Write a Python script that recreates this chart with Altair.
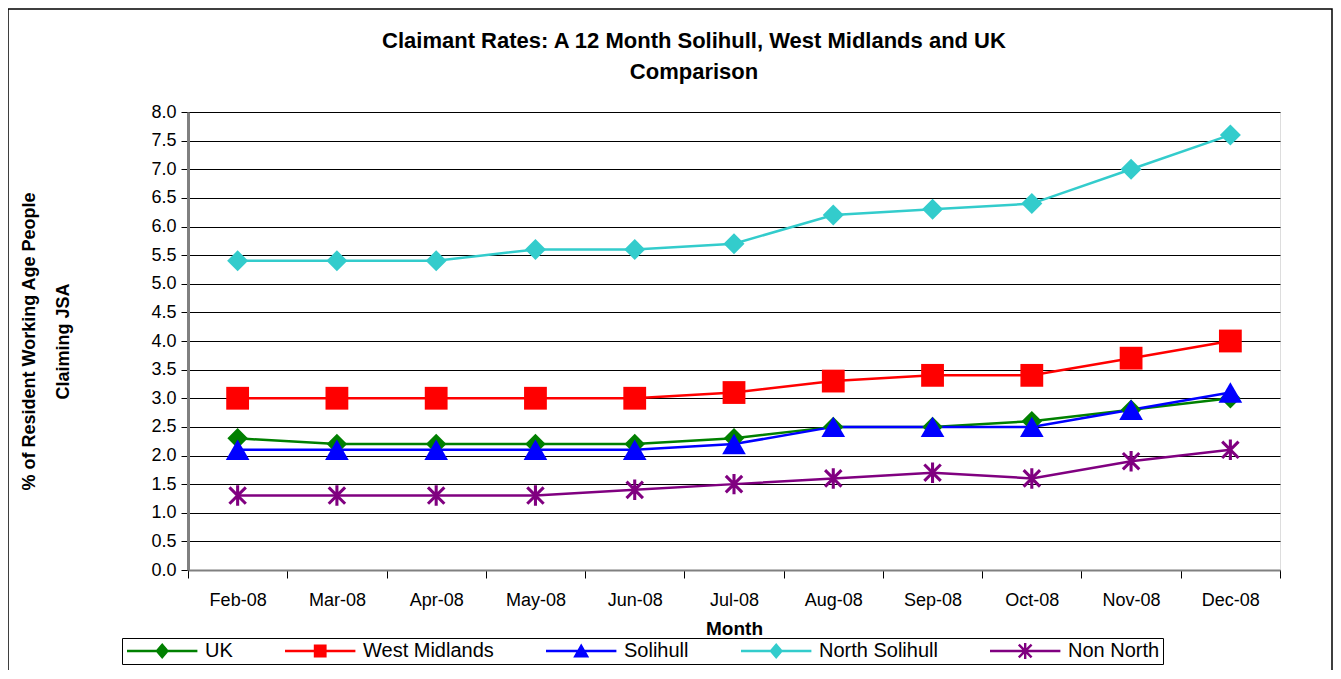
import altair as alt
import pandas as pd

months = ["Feb-08", "Mar-08", "Apr-08", "May-08", "Jun-08", "Jul-08",
          "Aug-08", "Sep-08", "Oct-08", "Nov-08", "Dec-08"]
series_names = ["UK", "West Midlands", "Solihull", "North Solihull", "Non North"]
uk = [2.3, 2.2, 2.2, 2.2, 2.2, 2.3, 2.5, 2.5, 2.6, 2.8, 3.0]
west_midlands = [3.0, 3.0, 3.0, 3.0, 3.0, 3.1, 3.3, 3.4, 3.4, 3.7, 4.0]
solihull = [2.1, 2.1, 2.1, 2.1, 2.1, 2.2, 2.5, 2.5, 2.5, 2.8, 3.1]
north_solihull = [5.4, 5.4, 5.4, 5.6, 5.6, 5.7, 6.2, 6.3, 6.4, 7.0, 7.6]
non_north = [1.3, 1.3, 1.3, 1.3, 1.4, 1.5, 1.6, 1.7, 1.6, 1.9, 2.1]
y_ticks = [0.0, 0.5, 1.0, 1.5, 2.0, 2.5, 3.0, 3.5, 4.0, 4.5, 5.0, 5.5, 6.0, 6.5, 7.0, 7.5, 8.0]

colors = ["#008000", "#FF0000", "#0000FF", "#33CCCC", "#800080"]

rows = []
for name, vals in zip(series_names, [uk, west_midlands, solihull, north_solihull, non_north]):
    for m, v in zip(months, vals):
        rows.append({"month": m, "series": name, "value": v})
df = pd.DataFrame(rows)

asterisk = ("M-0.15,-1L0.15,-1L0.15,1L-0.15,1Z"
            "M-0.694,-0.906L0.906,0.694L0.694,0.906L-0.906,-0.694Z"
            "M0.906,-0.694L-0.694,0.906L-0.906,0.694L0.694,-0.906Z")
point_shapes = ["diamond", "square", "triangle-up", "diamond", asterisk]
point_sizes = [420, 520, 560, 440, 420]

# legend symbols: line segment + marker (unit coords, scaled by sqrt(size)/2)
line_part = "M-1,-0.17L7.8,-0.17L7.8,0.17L-1,0.17Z"
c = 3.4
legend_shapes = [
    line_part + f"M{c},-1L{c+0.85},0L{c},1L{c-0.85},0Z",
    line_part + f"M{c-0.8},-0.8L{c+0.8},-0.8L{c+0.8},0.8L{c-0.8},0.8Z",
    line_part + f"M{c},-0.95L{c+1},0.8L{c-1},0.8Z",
    line_part + f"M{c},-1L{c+0.85},0L{c},1L{c-0.85},0Z",
    line_part + (f"M{c-0.15},-1L{c+0.15},-1L{c+0.15},1L{c-0.15},1Z"
                 f"M{c-0.694},-0.906L{c+0.906},0.694L{c+0.694},0.906L{c-0.906},-0.694Z"
                 f"M{c+0.906},-0.694L{c-0.694},0.906L{c-0.906},0.694L{c+0.694},-0.906Z"),
]

FONT = "Liberation Sans"

x_enc = alt.X(
    "month:O", sort=months, bandPosition=0.5,
    scale=alt.Scale(type="band", paddingInner=0, paddingOuter=0),
    axis=alt.Axis(title="Month", tickBand="extent", grid=False, labelAngle=0,
                  labelFontSize=18, labelFont=FONT, labelColor="black",
                  labelPadding=13, tickSize=8, tickColor="black",
                  domainColor="#808080", domainWidth=2,
                  titleFont=FONT, titleFontSize=19, titleFontWeight="bold",
                  titlePadding=10, titleColor="black"),
)
y_enc = alt.Y(
    "value:Q",
    scale=alt.Scale(domain=[0, 8], nice=False, zero=True),
    axis=alt.Axis(title=["% of Resident Working Age People", "Claiming JSA"],
                  values=y_ticks, format=".1f", grid=True, gridColor="black",
                  gridWidth=1, labelFontSize=18, labelFont=FONT,
                  labelColor="black", labelPadding=5, tickSize=7,
                  tickColor="black", domainColor="#808080", domainWidth=3,
                  titleFont=FONT, titleFontSize=18, titleFontWeight="bold",
                  titleColor="black", titlePadding=78, titleLineHeight=34),
)

base = alt.Chart(df)

series_layers = []
for i, name in enumerate(series_names):
    sub = base.transform_filter(alt.datum.series == name)
    series_layers.append(
        sub.mark_line(strokeWidth=2.5, color=colors[i]).encode(x=x_enc, y=y_enc)
    )
for i, name in enumerate(series_names):
    sub = base.transform_filter(alt.datum.series == name)
    series_layers.append(
        sub.mark_point(filled=True, opacity=1, color=colors[i],
                       shape=point_shapes[i], size=point_sizes[i]).encode(x=x_enc, y=y_enc)
    )

legend = alt.Legend(title=None, orient="none", direction="horizontal",
                    legendX=-66, legendY=526,
                    symbolSize=256, labelOffset=60, labelFontSize=20,
                    labelFont=FONT, labelColor="black",
                    columnPadding=50, strokeColor="black",
                    padding=3, symbolStrokeWidth=0, symbolOpacity=1)

ghost = base.transform_filter("datum.value < -100").mark_point(filled=True, opacity=1).encode(
    x=x_enc, y=y_enc,
    color=alt.Color("series:N", scale=alt.Scale(domain=series_names, range=colors), legend=legend),
    shape=alt.Shape("series:N", scale=alt.Scale(domain=series_names, range=legend_shapes), legend=legend),
)

frame = alt.Chart(alt.Data(values=[{}])).mark_rect(
    fill=None, stroke="black", strokeWidth=1.5, clip=False
).encode(x=alt.value(-180), x2=alt.value(1144), y=alt.value(-103), y2=alt.value(700))

chart = alt.layer(frame, *series_layers, ghost).properties(
    width=1092, height=458,
    autosize=alt.AutoSizeParams(type="none"),
    padding={"left": 180, "top": 104, "right": 53, "bottom": 100},
    title=alt.TitleParams(
        text=["Claimant Rates: A 12 Month Solihull, West Midlands and UK", "Comparison"],
        font=FONT, fontSize=22, fontWeight="bold", color="black",
        lineHeight=31, anchor="middle", frame="group", dx=-40, dy=104, offset=28,
    ),
).configure_view(
    fill="#C0C0C0", stroke="#808080", strokeWidth=2
).configure(background="white")

chart.save("out.html", embed_options={"renderer": "svg", "actions": False})
